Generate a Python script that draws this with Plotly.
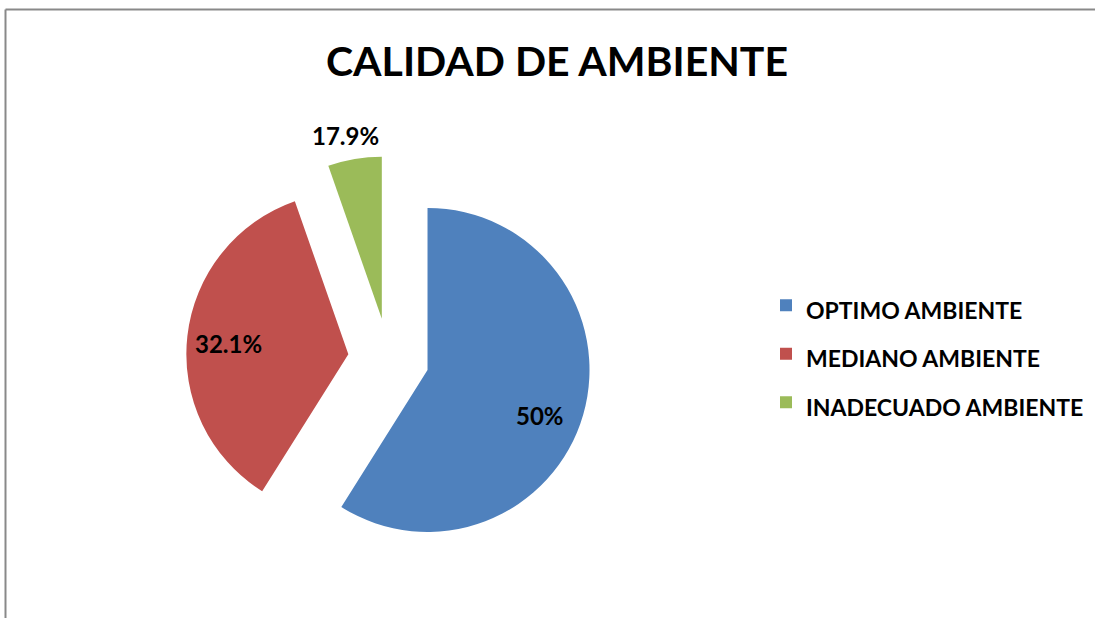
import plotly.graph_objects as go

# Data
categories = ["OPTIMO AMBIENTE", "MEDIANO AMBIENTE", "INADECUADO AMBIENTE"]
slice_values = [33, 20, 3]               # sizes of the drawn slices
label_texts = ["50%", "32.1%", "17.9%"]  # data labels as printed on the chart
colors = ["#4F81BD", "#C0504D", "#9BBB59"]

W, H = 1095, 618
FONT = "Lato"

# pixel positions (from top-left) of the data labels
label_pos = [(540, 415), (228, 343), (345, 135)]

legend_labels = [f"<span style='font-size:23px'>{c}</span>" for c in categories]

fig = go.Figure(
    go.Pie(
        labels=legend_labels,
        values=slice_values,
        textinfo="none",
        marker=dict(colors=colors, line=dict(width=0)),
        sort=False,
        direction="clockwise",
        rotation=0,
        pull=[0.25, 0.25, 0.25],
        domain=dict(x=[186.1 / W, 591.1 / W], y=[1 - 561.2 / H, 1 - 156.2 / H]),
        hoverinfo="skip",
    )
)

annotations = [
    dict(
        text=t, x=px / W, y=1 - py / H, xref="paper", yref="paper",
        xanchor="center", yanchor="middle", showarrow=False,
        font=dict(family=FONT, size=24, color="black", weight="bold"),
    )
    for t, (px, py) in zip(label_texts, label_pos)
]

fig.update_layout(
    width=W,
    height=H,
    margin=dict(l=0, r=0, t=0, b=0),
    paper_bgcolor="white",
    plot_bgcolor="white",
    title=dict(
        text="CALIDAD DE AMBIENTE",
        x=557 / W,
        xanchor="center",
        y=1 - 62 / H,
        yanchor="middle",
        font=dict(family=FONT, size=41, color="black", weight="bold"),
    ),
    showlegend=True,
    legend=dict(
        x=766 / W,
        xanchor="left",
        y=1 - 354 / H,
        yanchor="middle",
        font=dict(family=FONT, size=35, color="black", weight="bold"),
        bgcolor="rgba(0,0,0,0)",
        traceorder="normal",
    ),
    annotations=annotations,
    shapes=[
        dict(type="line", xref="paper", yref="paper", x0=5.5 / W, x1=1.0, y0=1 - 9.5 / H, y1=1 - 9.5 / H,
             line=dict(color="#898989", width=2)),
        dict(type="line", xref="paper", yref="paper", x0=5.5 / W, x1=5.5 / W, y0=0, y1=1 - 9.5 / H,
             line=dict(color="#898989", width=2)),
    ],
)

fig.write_html(
    "out.html",
    config={"displayModeBar": False},
    post_script="document.body.style.margin='0';",
)
